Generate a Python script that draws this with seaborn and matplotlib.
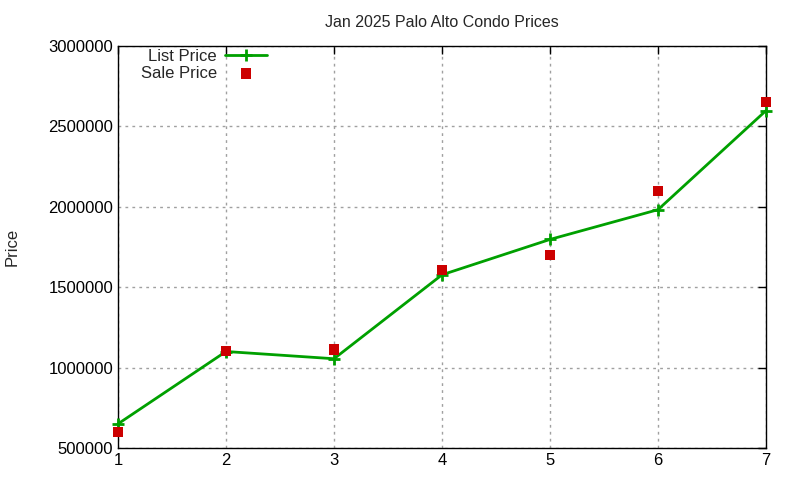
import pandas as pd
import matplotlib
matplotlib.use('Agg')
import matplotlib.pyplot as plt
import seaborn as sns

# data
units = [1, 2, 3, 4, 5, 6, 7]
list_price = [650000, 1100000, 1055000, 1577000, 1797000, 1982000, 2598000]
sale_price = [600000, 1102000, 1112000, 1607000, 1702000, 2096000, 2650000]
y_ticks = [500000, 1000000, 1500000, 2000000, 2500000, 3000000]

df = pd.DataFrame({'unit': units, 'list': list_price, 'sale': sale_price})

sns.set_style('white')
plt.rcParams['font.family'] = ['Liberation Sans', 'DejaVu Sans']

fig = plt.figure(figsize=(8, 4.8), dpi=100)
ax = fig.add_axes([0.1475, 0.0667, 0.81, 0.8375])

sns.lineplot(data=df, x='unit', y='list', ax=ax, color='#00a000', linewidth=2,
             marker='+', markersize=9, markeredgewidth=2, markeredgecolor='#00a000',
             label='List Price', clip_on=False, zorder=3)
sns.scatterplot(data=df, x='unit', y='sale', ax=ax, color='#cc0000', marker='s',
                s=55, edgecolor='none', label='Sale Price', zorder=4, clip_on=False)

ax.set_xlim(1, 7)
ax.set_ylim(500000, 3000000)
ax.set_xticks(units)
ax.set_yticks(y_ticks)
ax.set_yticklabels([str(v) for v in y_ticks])
ax.grid(True, color='#a0a0a0', linestyle=(0, (2, 3)), linewidth=1)
ax.tick_params(direction='in', length=6, width=1, top=True, right=True,
               labelsize=12, colors='black')
for s in ax.spines.values():
    s.set_color('black')
    s.set_linewidth(1)

ax.set_xlabel('')
ax.set_ylabel('Price', fontsize=12)
ax.yaxis.set_label_coords(-0.152, 0.5)
ax.set_title('Jan 2025 Palo Alto Condo Prices', fontsize=11.5, pad=14)

ax.legend(loc='upper left', frameon=False, markerfirst=False, fontsize=12,
          handlelength=2.5, handletextpad=0.5, borderaxespad=0.2, labelspacing=0.1,
          bbox_to_anchor=(0.02, 1.017))

fig.savefig('out.png', dpi=100)
